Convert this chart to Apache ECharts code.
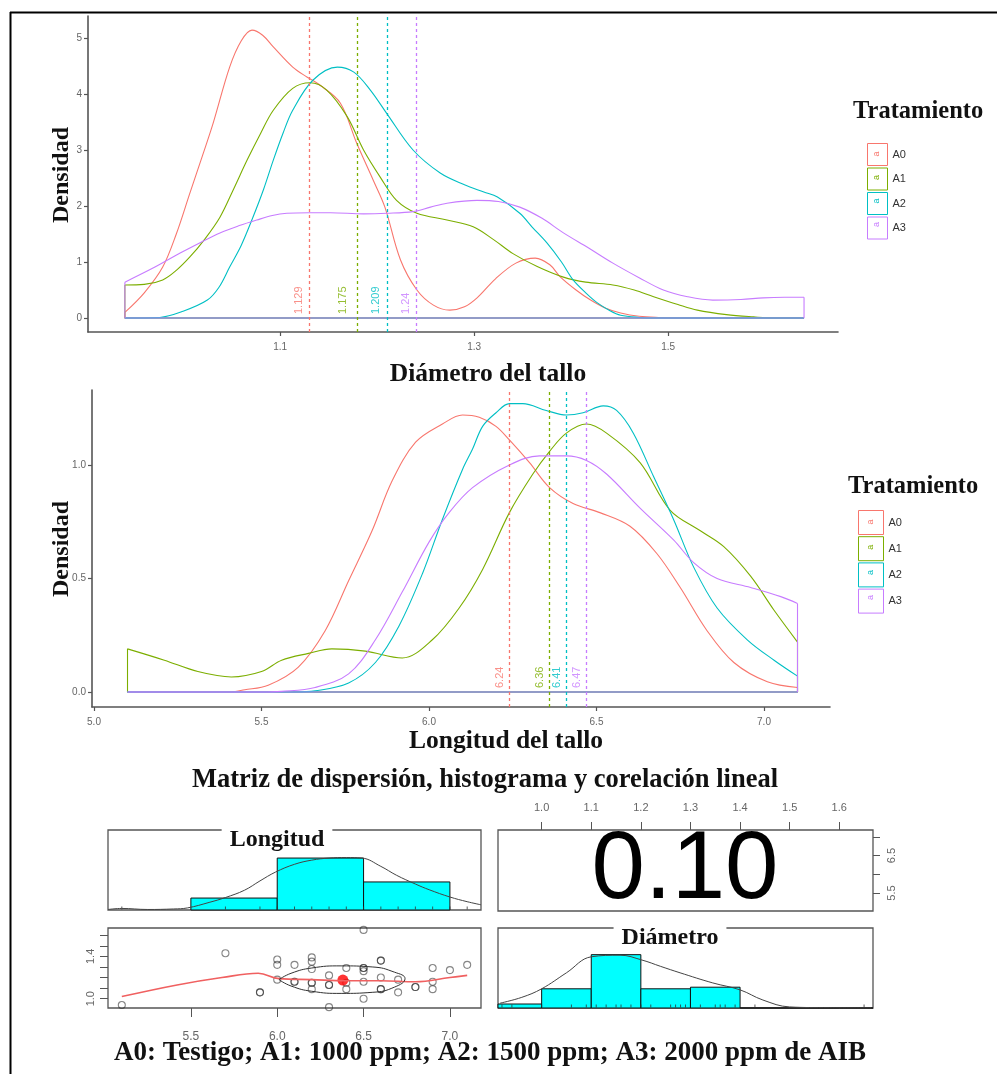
<!DOCTYPE html>
<html><head><meta charset="utf-8">
<script src="https://cdn.jsdelivr.net/npm/echarts@6/dist/echarts.min.js"></script>
<style>html,body{margin:0;padding:0;background:#fff}#c{width:997px;height:1074px}</style>
</head><body><div id="c"></div>
<script>
// ---------------- DATA ----------------
const groups = ['A0', 'A1', 'A2', 'A3'];

// Panel 1: densidad del diámetro del tallo
const diamRange = [0.94, 1.64];
const diamA0 = [[0.94,0.1],[0.96,0.45],[0.979,0.91],[0.993,1.5],[1.007,2.23],[1.02,2.9],[1.031,3.48],[1.048,4.48],[1.06,4.95],[1.071,5.14],[1.082,5.05],[1.093,4.84],[1.113,4.48],[1.128,4.3],[1.141,4.16],[1.162,3.84],[1.179,3.12],[1.196,2.46],[1.208,1.98],[1.224,1.04],[1.241,0.5],[1.258,0.23],[1.275,0.14],[1.29,0.2],[1.303,0.36],[1.322,0.7],[1.343,0.98],[1.363,1.07],[1.378,0.95],[1.389,0.73],[1.405,0.5],[1.42,0.32],[1.435,0.18],[1.451,0.09],[1.47,0.03],[1.49,0.01],[1.52,0],[1.64,0]];
const diamA1 = [[0.94,0.59],[0.96,0.6],[0.979,0.68],[0.993,0.85],[1.007,1.09],[1.022,1.4],[1.038,1.8],[1.052,2.3],[1.066,2.82],[1.08,3.3],[1.093,3.71],[1.113,4.1],[1.131,4.2],[1.148,4.07],[1.169,3.6],[1.186,3.0],[1.203,2.52],[1.22,2.1],[1.241,1.87],[1.272,1.75],[1.299,1.63],[1.32,1.4],[1.34,1.15],[1.365,0.92],[1.392,0.73],[1.415,0.64],[1.443,0.59],[1.465,0.5],[1.485,0.38],[1.51,0.24],[1.53,0.14],[1.56,0.06],[1.588,0.02],[1.61,0],[1.64,0]];
const diamA2 = [[0.94,0],[0.976,0.01],[1.0,0.12],[1.025,0.32],[1.037,0.55],[1.048,0.91],[1.06,1.3],[1.072,1.8],[1.083,2.3],[1.093,2.82],[1.103,3.3],[1.113,3.71],[1.134,4.25],[1.159,4.48],[1.176,4.39],[1.193,4.07],[1.21,3.65],[1.237,3.0],[1.265,2.59],[1.29,2.38],[1.31,2.25],[1.324,2.16],[1.347,1.87],[1.36,1.62],[1.375,1.34],[1.39,1.0],[1.402,0.68],[1.415,0.45],[1.427,0.27],[1.44,0.13],[1.451,0.05],[1.47,0.01],[1.485,0],[1.64,0]];
const diamA3 = [[0.94,0.64],[0.97,0.9],[0.997,1.16],[1.018,1.35],[1.038,1.52],[1.058,1.65],[1.076,1.75],[1.092,1.83],[1.107,1.87],[1.13,1.88],[1.152,1.88],[1.186,1.86],[1.21,1.87],[1.237,1.9],[1.255,1.98],[1.272,2.05],[1.303,2.1],[1.325,2.08],[1.347,1.98],[1.37,1.78],[1.392,1.52],[1.418,1.25],[1.443,0.98],[1.47,0.72],[1.495,0.5],[1.52,0.38],[1.546,0.32],[1.575,0.33],[1.598,0.36],[1.62,0.37],[1.64,0.37]];
const diamMeans = [1.129, 1.175, 1.209, 1.24];
const diamMeanLabels = ['1.129', '1.175', '1.209', '1.24'];
const diamXTicks = [1.1, 1.3, 1.5];
const diamXTickLabels = ['1.1', '1.3', '1.5'];
const densTopTicks = [0, 1, 2, 3, 4, 5];
const densTopTickLabels = ['0', '1', '2', '3', '4', '5'];

// Panel 2: densidad de la longitud del tallo
const longRange = [5.1, 7.1];
const longA0 = [[5.1,0],[5.4,0],[5.45,0.01],[5.52,0.03],[5.61,0.11],[5.69,0.27],[5.76,0.49],[5.83,0.71],[5.89,0.93],[5.96,1.1],[6.04,1.18],[6.1,1.22],[6.15,1.21],[6.2,1.17],[6.24,1.11],[6.3,1.01],[6.36,0.9],[6.43,0.83],[6.51,0.79],[6.6,0.73],[6.68,0.61],[6.75,0.46],[6.83,0.27],[6.91,0.13],[7.01,0.045],[7.1,0.02]];
const longA1 = [[5.1,0.19],[5.21,0.14],[5.31,0.09],[5.41,0.066],[5.5,0.09],[5.56,0.14],[5.64,0.17],[5.71,0.19],[5.81,0.18],[5.92,0.15],[6.01,0.23],[6.09,0.37],[6.16,0.54],[6.24,0.79],[6.31,0.96],[6.36,1.06],[6.41,1.14],[6.47,1.18],[6.53,1.14],[6.63,1.01],[6.72,0.8],[6.81,0.71],[6.88,0.64],[6.96,0.51],[7.03,0.36],[7.1,0.22]];
const longA2 = [[5.1,0],[5.6,0],[5.66,0.005],[5.76,0.04],[5.84,0.13],[5.91,0.29],[5.98,0.52],[6.04,0.76],[6.1,0.98],[6.13,1.07],[6.16,1.17],[6.2,1.23],[6.24,1.27],[6.28,1.27],[6.35,1.24],[6.41,1.22],[6.46,1.23],[6.52,1.26],[6.56,1.24],[6.61,1.14],[6.67,0.95],[6.73,0.76],[6.79,0.55],[6.86,0.37],[6.95,0.23],[7.03,0.14],[7.1,0.07]];
const longA3 = [[5.1,0],[5.5,0],[5.56,0.003],[5.66,0.02],[5.76,0.08],[5.84,0.23],[5.92,0.44],[6.0,0.66],[6.06,0.79],[6.13,0.9],[6.24,1.0],[6.33,1.04],[6.41,1.04],[6.47,1.02],[6.53,0.96],[6.63,0.81],[6.73,0.67],[6.79,0.57],[6.86,0.5],[6.96,0.46],[7.05,0.42],[7.1,0.39]];
const longMeans = [6.24, 6.36, 6.41, 6.47];
const longMeanLabels = ['6.24', '6.36', '6.41', '6.47'];
const longXTicks = [5.0, 5.5, 6.0, 6.5, 7.0];
const longXTickLabels = ['5.0', '5.5', '6.0', '6.5', '7.0'];
const densMidTicks = [0, 0.5, 1.0];
const densMidTickLabels = ['0.0', '0.5', '1.0'];

// Panel 3: matriz de dispersión (Longitud, Diámetro)
const scatterPts = [[5.1,0.94],[5.7,1.43],[5.9,1.06],[5.9,1.06],[6.0,1.37],[6.0,1.32],[6.0,1.18],[6.1,1.32],[6.1,1.16],[6.1,1.16],[6.2,1.39],[6.2,1.35],[6.2,1.28],[6.2,1.15],[6.2,1.15],[6.2,1.09],[6.3,1.22],[6.3,1.13],[6.3,1.13],[6.3,0.92],[6.4,1.29],[6.4,1.15],[6.4,1.09],[6.5,1.65],[6.5,1.29],[6.5,1.29],[6.5,1.26],[6.5,1.16],[6.5,1.0],[6.6,1.36],[6.6,1.36],[6.6,1.2],[6.6,1.09],[6.6,1.09],[6.7,1.18],[6.7,1.06],[6.8,1.11],[6.8,1.11],[6.9,1.29],[6.9,1.16],[6.9,1.09],[7.0,1.27],[7.1,1.32]];
const loessPts = [[5.1,1.02],[5.42,1.13],[5.68,1.2],[5.89,1.24],[6.01,1.19],[6.2,1.18],[6.4,1.17],[6.6,1.17],[6.8,1.16],[7.0,1.2],[7.1,1.22]];
const ellipsePts = [[6.01,1.18],[6.08,1.24],[6.2,1.29],[6.37,1.31],[6.55,1.3],[6.68,1.25],[6.74,1.19],[6.68,1.11],[6.55,1.06],[6.37,1.05],[6.2,1.07],[6.08,1.12],[6.01,1.18]];
const centroid = [[6.38, 1.176]];
const longHist = [[5.5,6.0,0.23],[6.0,6.5,1.0],[6.5,7.0,0.54]];
const longDensity = [[5.02,0.01],[5.1,0.03],[5.25,0.01],[5.4,0.02],[5.48,0.04],[5.61,0.15],[5.7,0.24],[5.81,0.38],[5.9,0.56],[5.99,0.73],[6.1,0.88],[6.2,0.96],[6.3,1.0],[6.4,1.01],[6.49,1.0],[6.6,0.84],[6.69,0.67],[6.8,0.5],[6.88,0.39],[7.0,0.25],[7.1,0.16],[7.18,0.1]];
const diamHist = [[0.9,1.0,0.075],[1.0,1.1,0.36],[1.1,1.2,1.0],[1.2,1.3,0.36],[1.3,1.4,0.39],[1.4,1.5,0],[1.5,1.6,0],[1.6,1.7,0]];
const diamDensity = [[0.916,0.09],[0.96,0.2],[1.0,0.36],[1.05,0.66],[1.1,0.96],[1.158,0.99],[1.202,0.9],[1.24,0.78],[1.279,0.66],[1.345,0.47],[1.4,0.34],[1.446,0.15],[1.5,0.02],[1.58,0.005],[1.664,0]];
const corrText = '0.10';
const pairDiamTicks = [1.0, 1.1, 1.2, 1.3, 1.4, 1.5, 1.6];
const pairDiamTickLabels = ['1.0', '1.1', '1.2', '1.3', '1.4', '1.5', '1.6'];
const pairDiamLabelShown = [1.0, 1.4];
const pairLongTicks = [5.5, 6.0, 6.5, 7.0];
const pairLongTickLabels = ['5.5', '6.0', '6.5', '7.0'];
const pairLongLabelShown = [5.5, 6.5];

// ---------------- STYLE ----------------
const colors = ['#F8766D', '#7CAE00', '#00BFC4', '#C77CFF'];
const SERIF = "'Liberation Serif','DejaVu Serif',serif";
const SANS = "'Liberation Sans',Arial,sans-serif";
const AXC = '#555';

function lbl(ticks, labels) {
  return v => { let bi = 0, bd = 1e9; ticks.forEach((t, i) => { const d = Math.abs(t - v); if (d < bd) { bd = d; bi = i; } }); return labels[bi]; };
}
function densAxis(gi, min, max, ticks, labels, isX) {
  return {
    type: 'value', gridIndex: gi, min, max,
    axisLine: { show: true, onZero: false, lineStyle: { color: AXC, width: 1.6 } },
    axisTick: { show: true, length: 4, customValues: ticks, lineStyle: { color: AXC, width: 1.2 } },
    axisLabel: { customValues: ticks, formatter: lbl(ticks, labels), color: '#666', fontSize: 10, fontFamily: SANS, margin: isX ? 10 : 6 },
    splitLine: { show: false }
  };
}
function hiddenAxis(gi, min, max) {
  return { type: 'value', gridIndex: gi, min, max, show: false, splitLine: { show: false } };
}

const series = [];
function addDensity(gi, curves, range, means, meanLabels) {
  curves.forEach((c, i) => {
    series.push({
      type: 'line', name: groups[i], xAxisIndex: gi, yAxisIndex: gi, data: c, smooth: 0.35,
      symbol: 'none', lineStyle: { color: colors[i], width: 1.1 }, itemStyle: { color: colors[i] }, silent: true
    });
    series.push({
      type: 'line', name: '_' + groups[i], xAxisIndex: gi, yAxisIndex: gi, symbol: 'none', silent: true,
      data: [[range[0], c[0][1]], [range[0], 0], [range[1], 0], [range[1], c[c.length - 1][1]]],
      lineStyle: { color: colors[i], width: 1.1 }
    });
  });
  series.push({
    type: 'scatter', name: '_means' + gi, xAxisIndex: gi, yAxisIndex: gi, symbolSize: 0.1, silent: true,
    itemStyle: { color: 'rgba(0,0,0,0)' },
    data: means.map((m, i) => ({
      value: [m, 0],
      label: { show: true, formatter: meanLabels[i], color: colors[i], rotate: 90, align: 'left', verticalAlign: 'bottom',
               position: 'inside', fontSize: 11, fontFamily: SANS, padding: [0, 0, 4, 4] }
    })),
    markLine: {
      silent: true, symbol: ['none', 'none'], label: { show: false },
      data: means.map((m, i) => ({ xAxis: m, lineStyle: { color: colors[i], type: [3, 3], width: 1.3, opacity: 1 } }))
    }
  });
}
addDensity(0, [diamA0, diamA1, diamA2, diamA3], diamRange, diamMeans, diamMeanLabels);
addDensity(1, [longA0, longA1, longA2, longA3], longRange, longMeans, longMeanLabels);

function histRender(params, api) {
  const p0 = api.coord([api.value(0), 0]);
  const p1 = api.coord([api.value(1), api.value(2)]);
  const cs = params.coordSys;
  const r = echarts.graphic.clipRectByRect(
    { x: p0[0], y: p1[1], width: p1[0] - p0[0], height: p0[1] - p1[1] },
    { x: cs.x, y: cs.y, width: cs.width, height: cs.height });
  if (!r) return;
  return { type: 'rect', shape: r, style: { fill: '#00FFFF', stroke: '#111', lineWidth: 1 } };
}
// Longitud histogram (grid 2)
series.push({ type: 'custom', name: '_lh', xAxisIndex: 2, yAxisIndex: 2, renderItem: histRender, data: longHist, encode: { x: [0, 1], y: 2 }, silent: true });
series.push({ type: 'line', name: '_ld', xAxisIndex: 2, yAxisIndex: 2, data: longDensity, smooth: 0.4, symbol: 'none', lineStyle: { color: '#444', width: 1 }, silent: true });
series.push({ type: 'scatter', name: '_lr', xAxisIndex: 2, yAxisIndex: 2, silent: true, symbol: 'rect', symbolSize: [1, 3], symbolOffset: [0, -2],
  itemStyle: { color: '#333' }, data: [...new Set(scatterPts.map(p => p[0]))].map(v => [v, 0]) });
// Diámetro histogram (grid 5)
series.push({ type: 'custom', name: '_dh', xAxisIndex: 5, yAxisIndex: 5, renderItem: histRender, data: diamHist, encode: { x: [0, 1], y: 2 }, silent: true });
series.push({ type: 'line', name: '_dd', xAxisIndex: 5, yAxisIndex: 5, data: diamDensity, smooth: 0.4, symbol: 'none', lineStyle: { color: '#444', width: 1 }, silent: true });
series.push({ type: 'scatter', name: '_dr', xAxisIndex: 5, yAxisIndex: 5, silent: true, symbol: 'rect', symbolSize: [1, 3], symbolOffset: [0, -2],
  itemStyle: { color: '#333' }, data: [...new Set(scatterPts.map(p => p[1]))].map(v => [v, 0]) });
// Scatter (grid 4)
series.push({ type: 'scatter', name: '_sc', xAxisIndex: 4, yAxisIndex: 4, data: scatterPts, symbol: 'circle', symbolSize: 7, silent: true,
  itemStyle: { color: 'rgba(0,0,0,0)', borderColor: 'rgba(40,40,40,0.7)', borderWidth: 1.1 } });
series.push({ type: 'line', name: '_lo', xAxisIndex: 4, yAxisIndex: 4, data: loessPts, smooth: 0.4, symbol: 'none', lineStyle: { color: '#f06060', width: 1.6 }, silent: true });
series.push({ type: 'line', name: '_el', xAxisIndex: 4, yAxisIndex: 4, data: ellipsePts, smooth: 0.5, symbol: 'none', lineStyle: { color: '#333', width: 1 }, silent: true });
series.push({ type: 'scatter', name: '_ce', xAxisIndex: 4, yAxisIndex: 4, data: centroid, symbolSize: 11, itemStyle: { color: '#ff0000' }, silent: true });

const pairAxisBase = { axisLine: { show: false }, splitLine: { show: false } };

// small rotated "a" glyphs inside the legend keys (ggplot text key)
const keyGlyphs = [];
groups.forEach((g, i) => {
  keyGlyphs.push({ type: 'text', x: 877, y: 154 + i * 23.5, rotation: Math.PI / 2, z: 110,
    style: { text: 'a', font: '9px ' + SANS, fill: colors[i], align: 'center', verticalAlign: 'middle' } });
  keyGlyphs.push({ type: 'text', x: 870.5, y: 522 + i * 25.2, rotation: Math.PI / 2, z: 110,
    style: { text: 'a', font: '9px ' + SANS, fill: colors[i], align: 'center', verticalAlign: 'middle' } });
});

const option = {
  animation: false,
  backgroundColor: '#fff',
  grid: [
    { left: 88, top: 16, width: 750, height: 316 },
    { left: 92, top: 390, width: 738, height: 317 },
    { left: 108, top: 830, width: 373, height: 80, show: true, borderColor: '#555', borderWidth: 1.3 },
    { left: 498, top: 830, width: 375, height: 81, show: true, borderColor: '#555', borderWidth: 1.3 },
    { left: 108, top: 928, width: 373, height: 80, show: true, borderColor: '#555', borderWidth: 1.3 },
    { left: 498, top: 928, width: 375, height: 80, show: true, borderColor: '#555', borderWidth: 1.3 }
  ],
  xAxis: [
    densAxis(0, 0.902, 1.675, diamXTicks, diamXTickLabels, true),
    densAxis(1, 4.994, 7.197, longXTicks, longXTickLabels, true),
    hiddenAxis(2, 5.02, 7.18),
    Object.assign({ type: 'value', gridIndex: 3, min: 0.912, max: 1.668, position: 'top',
      axisTick: { show: true, length: 8, customValues: pairDiamTicks, lineStyle: { color: '#555' } },
      axisLabel: { customValues: pairDiamTicks, formatter: lbl(pairDiamTicks, pairDiamTickLabels), color: '#666', fontSize: 11, fontFamily: SANS, margin: 17 } }, pairAxisBase),
    Object.assign({ type: 'value', gridIndex: 4, min: 5.02, max: 7.18,
      axisTick: { show: true, length: 9, customValues: pairLongTicks, lineStyle: { color: '#555' } },
      axisLabel: { customValues: pairLongTicks, formatter: lbl(pairLongTicks, pairLongTickLabels), color: '#666', fontSize: 12, fontFamily: SANS, margin: 23 } }, pairAxisBase),
    hiddenAxis(5, 0.912, 1.668)
  ],
  yAxis: [
    densAxis(0, -0.25, 5.393, densTopTicks, densTopTickLabels, false),
    densAxis(1, -0.066, 1.330, densMidTicks, densMidTickLabels, false),
    hiddenAxis(2, 0, 1.54),
    Object.assign({ type: 'value', gridIndex: 3, min: 5.02, max: 7.18, position: 'right',
      axisTick: { show: true, length: 7, customValues: pairLongTicks, lineStyle: { color: '#555' } },
      axisLabel: { customValues: pairLongLabelShown, formatter: lbl(pairLongTicks, pairLongTickLabels), rotate: 90, color: '#666', fontSize: 11, fontFamily: SANS, margin: 13 } }, pairAxisBase),
    Object.assign({ type: 'value', gridIndex: 4, min: 0.912, max: 1.668,
      axisTick: { show: true, length: 8, customValues: pairDiamTicks, lineStyle: { color: '#555' } },
      axisLabel: { customValues: pairDiamLabelShown, formatter: lbl(pairDiamTicks, pairDiamTickLabels), rotate: 90, color: '#666', fontSize: 11, fontFamily: SANS, margin: 12 } }, pairAxisBase),
    hiddenAxis(5, 0, 1.5)
  ],
  legend: [
    { left: 867, top: 143, orient: 'vertical', itemWidth: 20, itemHeight: 22, itemGap: 1.5, padding: 0, selectedMode: false,
      data: groups.map((g, i) => ({ name: g, icon: 'rect', itemStyle: { color: '#fff', borderColor: colors[i], borderWidth: 1 } })),
      textStyle: { fontSize: 11, color: '#333', fontFamily: SANS } },
    { left: 858, top: 510, orient: 'vertical', itemWidth: 25, itemHeight: 24, itemGap: 1.2, padding: 0, selectedMode: false,
      data: groups.map((g, i) => ({ name: g, icon: 'rect', itemStyle: { color: '#fff', borderColor: colors[i], borderWidth: 1 } })),
      textStyle: { fontSize: 11, color: '#333', fontFamily: SANS } }
  ],
  graphic: [
    { type: 'line', shape: { x1: 10.5, y1: 12, x2: 10.5, y2: 1074 }, style: { stroke: '#000', lineWidth: 2 }, z: 100 },
    { type: 'line', shape: { x1: 10, y1: 12.5, x2: 997, y2: 12.5 }, style: { stroke: '#000', lineWidth: 2 }, z: 100 },
    { type: 'text', x: 62, y: 175, rotation: Math.PI / 2, z: 100, style: { text: 'Densidad', font: 'bold 24px ' + SERIF, fill: '#111', align: 'center', verticalAlign: 'middle' } },
    { type: 'text', x: 62, y: 549, rotation: Math.PI / 2, z: 100, style: { text: 'Densidad', font: 'bold 24px ' + SERIF, fill: '#111', align: 'center', verticalAlign: 'middle' } },
    { type: 'text', x: 488, y: 374, z: 100, style: { text: 'Diámetro del tallo', font: 'bold 25.5px ' + SERIF, fill: '#111', align: 'center', verticalAlign: 'middle' } },
    { type: 'text', x: 506, y: 741, z: 100, style: { text: 'Longitud del tallo', font: 'bold 25.5px ' + SERIF, fill: '#111', align: 'center', verticalAlign: 'middle' } },
    { type: 'text', x: 853, y: 112, z: 100, style: { text: 'Tratamiento', font: 'bold 24.5px ' + SERIF, fill: '#111', align: 'left', verticalAlign: 'middle' } },
    { type: 'text', x: 848, y: 487, z: 100, style: { text: 'Tratamiento', font: 'bold 24.5px ' + SERIF, fill: '#111', align: 'left', verticalAlign: 'middle' } },
    { type: 'text', x: 485, y: 780, z: 100, style: { text: 'Matriz de dispersión, histograma y corelación lineal', font: 'bold 26.5px ' + SERIF, fill: '#111', align: 'center', verticalAlign: 'middle' } },
    { type: 'text', x: 277, y: 840, z: 100, style: { text: 'Longitud', font: 'bold 24px ' + SERIF, fill: '#111', align: 'center', verticalAlign: 'middle', backgroundColor: '#fff', padding: [4, 8, 0, 8] } },
    { type: 'text', x: 670, y: 938, z: 100, style: { text: 'Diámetro', font: 'bold 24px ' + SERIF, fill: '#111', align: 'center', verticalAlign: 'middle', backgroundColor: '#fff', padding: [4, 8, 0, 8] } },
    { type: 'text', x: 685, y: 872, z: 100, style: { text: corrText, font: '96px ' + SANS, fill: '#000', align: 'center', verticalAlign: 'middle' } },
    { type: 'text', x: 490, y: 1053, z: 100, style: { text: 'A0: Testigo; A1: 1000 ppm; A2: 1500 ppm; A3: 2000 ppm de AIB', font: 'bold 27px ' + SERIF, fill: '#111', align: 'center', verticalAlign: 'middle' } }
  ].concat(keyGlyphs),
  series
};
const chart = echarts.init(document.getElementById('c'), null, { renderer: 'canvas' });
chart.setOption(option);
</script></body></html>
